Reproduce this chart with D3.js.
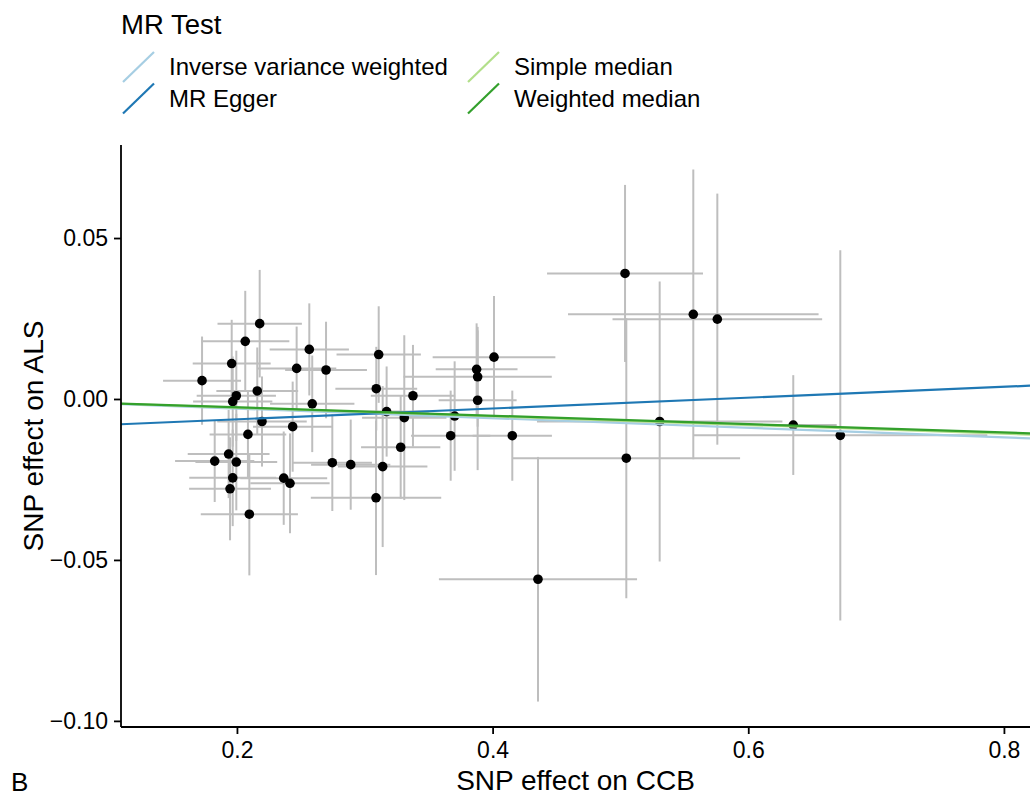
<!DOCTYPE html>
<html>
<head>
<meta charset="utf-8">
<script src="https://cdn.jsdelivr.net/npm/d3@7"></script>
<style>
  body { margin: 0; background: #fff; }
  text { font-family: "Liberation Sans", Arial, Helvetica, sans-serif; fill: #000; }
</style>
</head>
<body>
<svg id="chart"></svg>
<script>
// SNP effects on exposure (CCB) and outcome (ALS), with standard errors
const betaExp = [0.2178, 0.2065, 0.1959, 0.1727, 0.2566, 0.2467, 0.2697, 0.3109, 0.3090, 0.3377,
                 0.2159, 0.1995, 0.1967, 0.2589, 0.3171, 0.3309, 0.2196, 0.2436, 0.2086, 0.3281,
                 0.1935, 0.1826, 0.1995, 0.2746, 0.2890, 0.3140, 0.1967, 0.2366, 0.2415, 0.1946,
                 0.3088, 0.2097, 0.3875, 0.3883, 0.3883, 0.4011, 0.3703, 0.3672, 0.4154, 0.5036,
                 0.5570, 0.5758, 0.5307, 0.6352, 0.6720, 0.5046, 0.4355]
const seExp = [0.033, 0.0345, 0.0305, 0.0305, 0.031, 0.031, 0.032, 0.033, 0.032, 0.033,
               0.032, 0.031, 0.031, 0.033, 0.033, 0.033, 0.035, 0.031, 0.030, 0.031,
               0.032, 0.031, 0.032, 0.031, 0.031, 0.035, 0.034, 0.034, 0.031, 0.032,
               0.051, 0.038, 0.032, 0.058, 0.0305, 0.048, 0.043, 0.031, 0.031, 0.061,
               0.098, 0.082, 0.096, 0.034, 0.115, 0.089, 0.0775]
const betaOut = [0.0234, 0.0179, 0.0110, 0.0057, 0.0154, 0.0095, 0.0090, 0.0138, 0.0032, 0.0010,
                 0.0025, 0.0010, -0.0008, -0.0015, -0.0039, -0.0058, -0.0070, -0.0086, -0.0110, -0.0150,
                 -0.0171, -0.0193, -0.0196, -0.0198, -0.0204, -0.0210, -0.0245, -0.0246, -0.0262, -0.0279,
                 -0.0307, -0.0358, 0.0092, 0.0069, -0.0004, 0.0130, -0.0053, -0.0114, -0.0114, 0.0390,
                 0.0263, 0.0248, -0.0070, -0.0081, -0.0113, -0.0184, -0.0560]
const seOut = [0.0167, 0.0157, 0.0136, 0.0137, 0.0143, 0.013, 0.015, 0.015, 0.013, 0.0158,
               0.0135, 0.014, 0.014, 0.015, 0.014, 0.0256, 0.014, 0.014, 0.0137, 0.016,
               0.0137, 0.0127, 0.015, 0.015, 0.014, 0.025, 0.015, 0.0145, 0.0155, 0.016,
               0.024, 0.019, 0.0143, 0.0155, 0.0217, 0.019, 0.017, 0.014, 0.014, 0.0275,
               0.045, 0.039, 0.0435, 0.0155, 0.0575, 0.0435, 0.038]

// MR estimates (lines)
const methods = ['Inverse variance weighted', 'MR Egger', 'Simple median', 'Weighted median']
const slopes = [-0.0149, 0.01684, -0.0135, -0.0130]
const intercepts = [0, -0.00969, 0, 0]
const colors = ['#a6cee3', '#1f78b4', '#b2df8a', '#33a02c']

const xTicks = [0.2, 0.4, 0.6, 0.8]
const yTicks = [0.05, 0.00, -0.05, -0.10]

let width = 1032
let height = 800
let padLeft = 121, padRight = 1030, padTop = 145, padBottom = 727

let svg = d3.select('#chart')
  .attr('width', width)
  .attr('height', height)

let xScale = d3.scaleLinear()
  .domain([0.1093, 0.8204])
  .range([padLeft, padRight])

let yScale = d3.scaleLinear()
  .domain([-0.1019, 0.0789])
  .range([padBottom, padTop])

let pts = betaExp.map((b, i) => ({ x: b, sx: seExp[i], y: betaOut[i], sy: seOut[i] }))

svg.append('defs').append('clipPath').attr('id', 'clip')
  .append('rect')
    .attr('x', padLeft).attr('y', padTop)
    .attr('width', padRight - padLeft).attr('height', padBottom - padTop)

let plot = svg.append('g').attr('clip-path', 'url(#clip)')

// vertical error bars
plot.selectAll('line.ev')
  .data(pts)
  .enter()
  .append('line')
    .attr('class', 'ev')
    .attr('x1', d => xScale(d.x))
    .attr('x2', d => xScale(d.x))
    .attr('y1', d => yScale(d.y - d.sy))
    .attr('y2', d => yScale(d.y + d.sy))
    .attr('stroke', '#bebebe')
    .attr('stroke-width', 2)

// horizontal error bars
plot.selectAll('line.eh')
  .data(pts)
  .enter()
  .append('line')
    .attr('class', 'eh')
    .attr('x1', d => xScale(d.x - d.sx))
    .attr('x2', d => xScale(d.x + d.sx))
    .attr('y1', d => yScale(d.y))
    .attr('y2', d => yScale(d.y))
    .attr('stroke', '#bebebe')
    .attr('stroke-width', 2)

plot.selectAll('circle')
  .data(pts)
  .enter()
  .append('circle')
    .attr('cx', d => xScale(d.x))
    .attr('cy', d => yScale(d.y))
    .attr('r', 4.8)
    .attr('fill', '#000')

// regression lines
let xd = xScale.domain()
plot.selectAll('line.fit')
  .data(methods)
  .enter()
  .append('line')
    .attr('class', 'fit')
    .attr('x1', xScale(xd[0]))
    .attr('x2', xScale(xd[1]))
    .attr('y1', (m, i) => yScale(intercepts[i] + slopes[i] * xd[0]))
    .attr('y2', (m, i) => yScale(intercepts[i] + slopes[i] * xd[1]))
    .attr('stroke', (m, i) => colors[i])
    .attr('stroke-width', 2.2)

// axes
let xAxis = d3.axisBottom(xScale)
  .tickValues(xTicks)
  .tickFormat(d3.format('.1f'))
  .tickSizeOuter(0)
  .tickSize(7)
  .tickPadding(8)

let yAxis = d3.axisLeft(yScale)
  .tickValues(yTicks)
  .tickFormat(d => d3.format('.2f')(d).replace('-', '\u2212'))
  .tickSizeOuter(0)
  .tickSize(7)
  .tickPadding(6)

let gx = svg.append('g')
  .attr('transform', `translate(0, ${padBottom})`)
  .call(xAxis)
let gy = svg.append('g')
  .attr('transform', `translate(${padLeft}, 0)`)
  .call(yAxis)

gx.select('.domain').attr('d', `M${padLeft},0H${padRight}`)
gy.select('.domain').attr('d', `M0,${padTop}V${padBottom}`)
svg.selectAll('.domain').attr('stroke', '#000').attr('stroke-width', 1.8)
svg.selectAll('.tick line').attr('stroke', '#000').attr('stroke-width', 1.8)
svg.selectAll('.tick text').style('font-size', '23px').attr('fill', '#000')

// axis titles
svg.append('text')
  .attr('x', (padLeft + padRight) / 2)
  .attr('y', 790)
  .style('text-anchor', 'middle')
  .style('font-size', '28px')
  .text('SNP effect on CCB')

svg.append('text')
  .attr('transform', 'rotate(-90)')
  .attr('x', -(padTop + padBottom) / 2)
  .attr('y', 43)
  .style('text-anchor', 'middle')
  .style('font-size', '28px')
  .text('SNP effect on ALS')

svg.append('text')
  .attr('x', 11)
  .attr('y', 791)
  .style('font-size', '26px')
  .text('B')

// legend
svg.append('text')
  .attr('x', 121)
  .attr('y', 34)
  .style('font-size', '27.5px')
  .text('MR Test')

let legPos = [[122, 67], [122, 98.5], [467, 67], [467, 98.5]]
let leg = svg.selectAll('g.leg')
  .data(methods)
  .enter()
  .append('g')
    .attr('class', 'leg')
    .attr('transform', (m, i) => `translate(${legPos[i][0]}, ${legPos[i][1]})`)

leg.append('line')
  .attr('x1', 1).attr('y1', 15)
  .attr('x2', 32).attr('y2', -15)
  .attr('stroke', (m, i) => colors[i])
  .attr('stroke-width', 2.2)

leg.append('text')
  .attr('x', 47)
  .attr('y', 8)
  .style('font-size', '24px')
  .text(m => m)
</script>
</body>
</html>
